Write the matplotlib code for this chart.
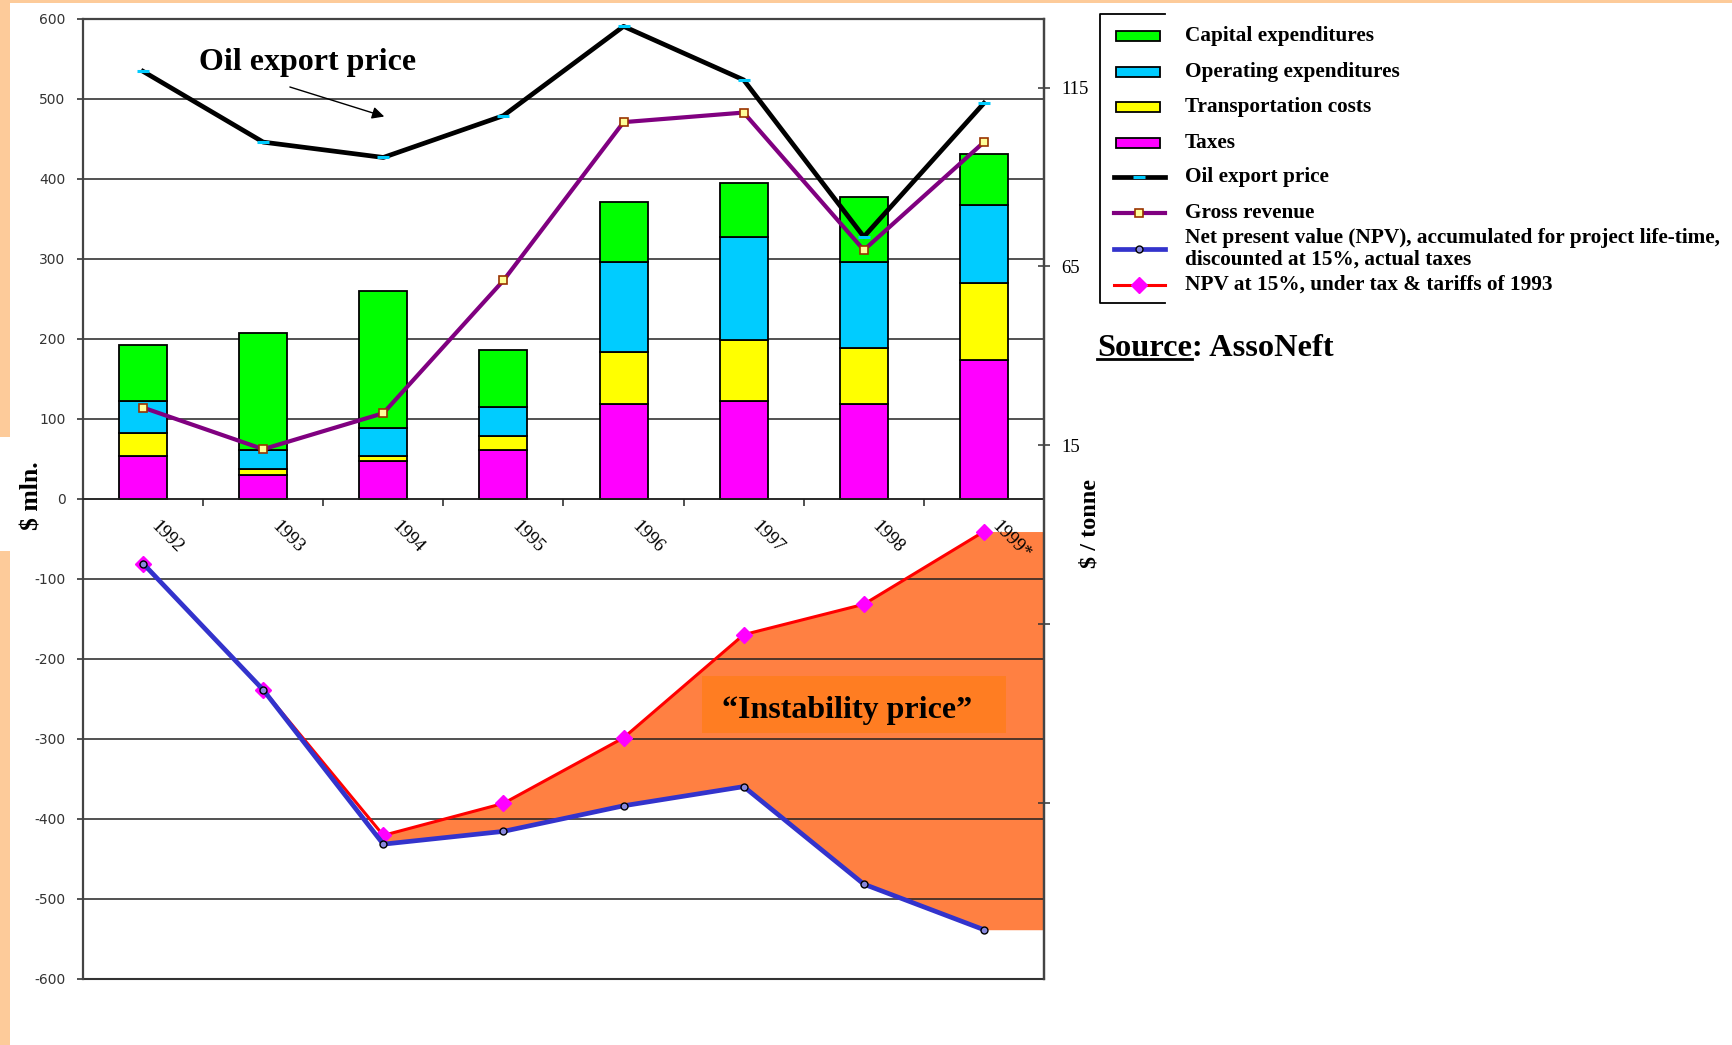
import numpy as np
import matplotlib.pyplot as plt
import matplotlib.transforms as mtransforms
from matplotlib.patches import Rectangle

plt.rcParams['axes.unicode_minus'] = False

# Project economics by year, $ mln.
years = ['1992', '1993', '1994', '1995', '1996', '1997', '1998', '1999*']
taxes = [53, 30, 47, 61, 118, 122, 118, 173]
transport = [29, 7, 7, 18, 65, 77, 70, 97]
opex = [40, 24, 35, 36, 113, 128, 108, 97]
capex = [70, 146, 171, 71, 75, 68, 81, 64]
gross_revenue = [114, 62, 107, 273, 471, 483, 311, 446]
npv_actual = [-81, -239, -432, -416, -384, -360, -482, -539]
npv_1993 = [-81, -239, -421, -381, -299, -170, -132, -41]

# Oil export price, $ / tonne (right axis)
oil_price = [119.6, 99.8, 95.5, 107.2, 132.2, 117.2, 73.3, 110.7]

legend_labels = ['Capital expenditures', 'Operating expenditures', 'Transportation costs',
                 'Taxes', 'Oil export price', 'Gross revenue',
                 'Net present value (NPV), accumulated for project life-time,\ndiscounted at 15%, actual taxes',
                 'NPV at 15%, under tax & tariffs of 1993']

GREEN, CYAN, YELLOW, MAGENTA = '#00FF00', '#00CCFF', '#FFFF00', '#FF00FF'
PURPLE, BLUE, RED = '#800080', '#3333CC', '#FF0000'
FILL, BOX, PEACH = '#FF8042', '#FF7D22', '#FDCB9A'
SERIF = 'Liberation Serif'

W, H = 1733, 1045
fig = plt.figure(figsize=(W / 100, H / 100), dpi=100)
fig.patch.set_facecolor('white')

x = np.arange(len(years))
ax = fig.add_axes([83 / W, 1 - 978.5 / H, 961 / W, 959.5 / H])
ax.set_xlim(-0.5, len(years) - 0.5)
ax.set_ylim(-600, 600)

# stacked cost bars
bottom = np.zeros(len(years))
for vals, col in [(taxes, MAGENTA), (transport, YELLOW), (opex, CYAN), (capex, GREEN)]:
    ax.bar(x, vals, 0.4, bottom=bottom, color=col, edgecolor='black', linewidth=1.3, zorder=2)
    bottom += vals

# gap between the two NPV cases, carried to the right edge
xmax = ax.get_xlim()[1]
ax.fill_between(np.append(x[2:], xmax), np.append(npv_1993[2:], npv_1993[-1]),
                np.append(npv_actual[2:], npv_actual[-1]), color=FILL, lw=0, zorder=0.3)

ax.plot(x, npv_1993, color=RED, lw=2.2, marker='D', ms=8, mfc=MAGENTA, mec=MAGENTA, zorder=3)
ax.plot(x, npv_actual, color=BLUE, lw=3.4, marker='o', ms=5, mfc='#8888DD', mec='black',
        mew=1, zorder=4)
ax.plot(x, gross_revenue, color=PURPLE, lw=3, marker='s', ms=6, mfc='#FFFF99', mec='#993300',
        mew=1.2, zorder=4)

# axes styling
ax.set_yticks(range(-600, 601, 100))
ax.grid(axis='y', color='#222222', lw=1.1)
ax.set_axisbelow(True)
ax.axhline(-600, color='#333333', lw=1.5, clip_on=False, zorder=1)
ax.tick_params(axis='y', direction='out', length=4.5, width=1.2, color='#333333',
               labelsize=10, labelcolor='#333333', pad=8)

ax.spines['bottom'].set_position(('data', 0))
ax.spines['bottom'].set_color('#222222')
ax.spines['bottom'].set_linewidth(1.1)
for s in ['left', 'top', 'right']:
    ax.spines[s].set_color('#444444')
    ax.spines[s].set_linewidth(1.6)
ax.set_xticks(x)
ax.set_xticklabels(years, rotation=-45, ha='left', va='top', rotation_mode='anchor',
                   family=SERIF, fontsize=13.5)
ax.set_xticks(x[:-1] + 0.5, minor=True)
ax.tick_params(axis='x', which='major', length=0, pad=14)
ax.tick_params(axis='x', which='minor', direction='out', length=5, width=1.2, color='#333333')
shift = mtransforms.ScaledTranslation(0.17, 0, fig.dpi_scale_trans)
for lbl in ax.get_xticklabels():
    lbl.set_transform(lbl.get_transform() + shift)

ax.set_ylabel('$ mln.', family=SERIF, fontweight='bold', fontsize=18.5)
ax.yaxis.set_label_coords(-0.041, 0.503)

ax.text(1.37, 536, 'Oil export price', family=SERIF, fontweight='bold', fontsize=23,
        ha='center', va='baseline', zorder=6)
ax.annotate('', xy=(2.03, 477), xytext=(1.20, 516),
            arrowprops=dict(arrowstyle='-|>', color='black', lw=1, mutation_scale=18), zorder=6)

ax.add_patch(Rectangle((4.655, -293), 2.53, 71, facecolor=BOX, lw=0, zorder=2))
ax.text(5.86, -274, '\u201cInstability price\u201d', family=SERIF, fontweight='bold', fontsize=23,
        ha='center', va='baseline', zorder=6)

# right axis: oil export price
ax2 = ax.twinx()
ax2.set_ylim(-134.25, 134.25)
ax2.plot(x, oil_price, color='black', lw=3.4, marker='_', ms=9, mec=CYAN, mew=2.2, zorder=5)
ax2.set_yticks([-85, -35, 15, 65, 115])
ax2.set_yticklabels(['', '', '15', '65', '115'], family=SERIF)
ax2.tick_params(axis='y', direction='inout', length=8.6, width=1.1, color='#333333',
                labelsize=13.5, pad=8)
for s in ['left', 'top', 'bottom']:
    ax2.spines[s].set_visible(False)
ax2.spines['right'].set_color('#444444')
ax2.spines['right'].set_linewidth(1.6)
ax2.set_ylabel('$ / tonne', family=SERIF, fontweight='bold', fontsize=17.5)
ax2.yaxis.set_label_coords(1.037, 0.474)

# page decorations and legend, drawn in pixel coordinates
lax = fig.add_axes([0, 0, 1, 1], zorder=5)
lax.set_xlim(0, W)
lax.set_ylim(H, 0)
lax.axis('off')
lax.patch.set_visible(False)

lax.add_patch(Rectangle((0, 0), 10, 437, color=PEACH, lw=0))
lax.add_patch(Rectangle((0, 551), 10, H - 551, color=PEACH, lw=0))
lax.add_patch(Rectangle((0, 0), W, 2.5, color=PEACH, lw=0))

rows = [35.7, 71.7, 107.3, 142.7, 177, 212.7, 248.7, 285]
for y, col in zip(rows[:4], [GREEN, CYAN, YELLOW, MAGENTA]):
    lax.add_patch(Rectangle((1116, y - 5), 44, 10, facecolor=col, edgecolor='black', lw=1.3))
hx = [1114, 1139.5, 1165]
lax.plot(hx, [rows[4]] * 3, color='black', lw=3.4, marker='_', ms=9, mec=CYAN, mew=2.2,
         markevery=[1])
lax.plot(hx, [rows[5]] * 3, color=PURPLE, lw=3, marker='s', ms=6, mfc='#FFFF99', mec='#993300',
         mew=1.2, markevery=[1])
lax.plot(hx, [rows[6]] * 3, color=BLUE, lw=3.4, marker='o', ms=5, mfc='#8888DD', mec='black',
         mew=1, markevery=[1])
lax.plot(hx, [rows[7]] * 3, color=RED, lw=2.2, marker='D', ms=8, mfc=MAGENTA, mec=MAGENTA,
         markevery=[1])
lax.plot([1165.5, 1100, 1100, 1165.5], [14, 14, 302.7, 302.7], color='black', lw=1.3)

text_rows = rows[:6] + [None, rows[7]]
for y, lab in zip(text_rows, legend_labels):
    if y is None:
        for yy, part in zip([237.7, 260], lab.split('\n')):
            lax.text(1185, yy, part, family=SERIF, fontweight='bold', fontsize=15.3, va='center')
    else:
        lax.text(1185, y, lab, family=SERIF, fontweight='bold', fontsize=15.3, va='center')

src = lax.text(1097, 363, 'Source', family=SERIF, fontweight='bold', fontsize=23.3, va='bottom')
lax.annotate(': AssoNeft', xy=(1, 0), xycoords=src, family=SERIF, fontweight='bold',
             fontsize=23.3, va='bottom')
fig.canvas.draw()
bb = src.get_window_extent().transformed(lax.transData.inverted())
lax.plot([bb.x0, bb.x1], [358.5, 358.5], color='black', lw=2)

fig.savefig('out.png', dpi=100)
